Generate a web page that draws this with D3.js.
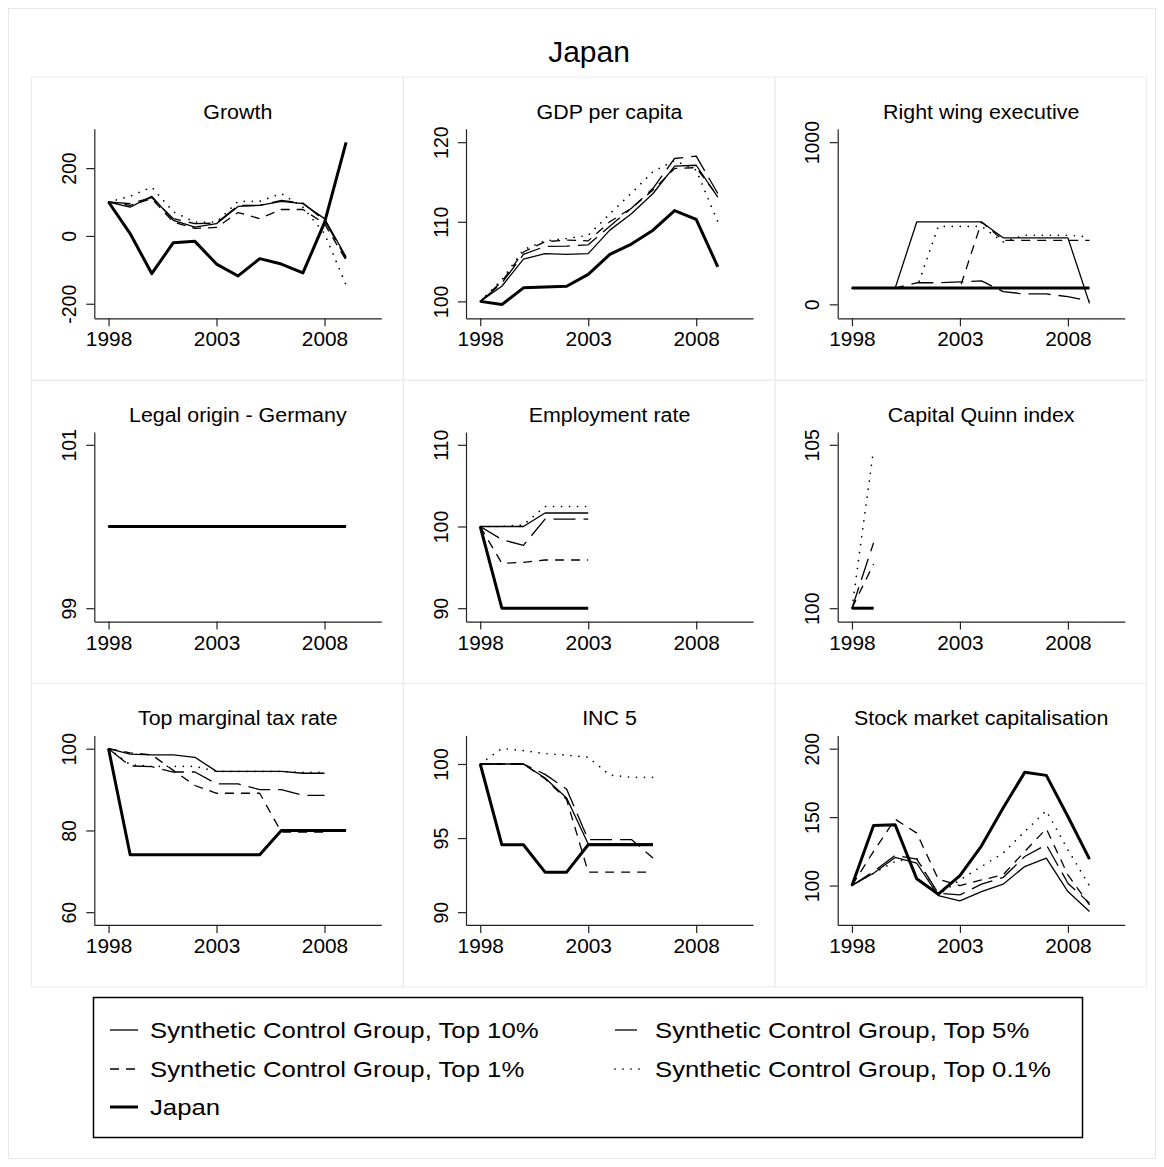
<!DOCTYPE html>
<html><head><meta charset="utf-8">
<script src="https://cdn.jsdelivr.net/npm/d3@7"></script>
<style>body{margin:0;background:#fff}svg{display:block}</style>
</head><body><svg id="chart" width="1164" height="1167"></svg>
<script>
// ---------- data ----------
const years = [1998,1999,2000,2001,2002,2003,2004,2005,2006,2007,2008,2009];
const seriesNames = ["Synthetic Control Group, Top 10%","Synthetic Control Group, Top 5%","Synthetic Control Group, Top 1%","Synthetic Control Group, Top 0.1%","Japan"];
const panelTitles = ["Growth","GDP per capita","Right wing executive","Legal origin - Germany","Employment rate","Capital Quinn index","Top marginal tax rate","INC 5","Stock market capitalisation"];
const xTickLabels = [1998, 2003, 2008];

// rows: Top 10%, Top 5%, Top 1%, Top 0.1%, Japan (values from 1998 onward)
const growthValues = [
  [100, 85, 117, 46, 26, 36, 87, 90, 102, 95, 51, -62],
  [100, 95, 113, 51, 36, 38, 90, 90, 105, 97, 46, -67],
  [100, 90, 110, 41, 22, 25, 69, 51, 78, 78, 36, -72],
  [100, 117, 144, 71, 41, 41, 102, 102, 125, 85, 7, -145],
  [100, 7, -111, -20, -16, -83, -118, -67, -83, -109, 39, 276]
];
const gdpValues = [
  [100, 101.9, 105.3, 106.0, 105.9, 106.0, 108.95, 111.0, 113.55, 117.0, 117.1, 113.1],
  [100, 102.3, 105.9, 106.9, 106.95, 107.1, 109.45, 111.7, 114.2, 117.95, 118.25, 113.55],
  [100, 102.5, 106.2, 107.5, 107.7, 107.6, 110.0, 111.7, 114.0, 116.7, 116.8, 113.2],
  [100, 102.7, 106.5, 107.6, 107.9, 108.3, 111.0, 113.6, 116.3, 117.7, 116.5, 110.0],
  [100, 99.6, 101.7, 101.8, 101.9, 103.4, 105.9, 107.2, 108.95, 111.4, 110.3, 104.35]
];
const rightWingValues = [
  [100, 100, 100, 508, 508, 508, 508, 410, 410, 410, 410, 6],
  [100, 100, 100, 133, 133, 138, 145, 78, 64, 64, 47, 22],
  [100, 100, 100, 100, 100, 100, 508, 395, 395, 395, 395, 395],
  [100, 100, 100, 100, 481, 481, 481, 385, 426, 426, 426, 416],
  [100, 100, 100, 100, 100, 100, 100, 100, 100, 100, 100, 100]
];
const legalValues = [
  [100, 100, 100, 100, 100, 100, 100, 100, 100, 100, 100, 100],
  [100, 100, 100, 100, 100, 100, 100, 100, 100, 100, 100, 100],
  [100, 100, 100, 100, 100, 100, 100, 100, 100, 100, 100, 100],
  [100, 100, 100, 100, 100, 100, 100, 100, 100, 100, 100, 100],
  [100, 100, 100, 100, 100, 100, 100, 100, 100, 100, 100, 100]
];
const employmentValues = [
  [100, 100, 100, 101.65, 101.65, 101.65],
  [100, 98.4, 97.7, 100.9, 100.9, 100.9],
  [100, 95.5, 95.6, 95.9, 95.9, 95.9],
  [100, 100, 100.2, 102.45, 102.45, 102.45],
  [100, 90, 90, 90, 90, 90]
];
const quinnValues = [
  [100, 100],
  [100, 102.0],
  [100, 101.35],
  [100, 104.85],
  [100, 100]
];
const taxValues = [
  [100, 98.7, 98.5, 98.5, 97.9, 94.45, 94.45, 94.45, 94.45, 94.0, 94.0],
  [100, 95.8, 95.6, 94.3, 94.3, 91.4, 91.4, 90.0, 90.0, 88.6, 88.6],
  [100, 99.0, 98.5, 94.7, 91.0, 89.1, 89.1, 89.1, 79.6, 79.6, 79.6],
  [100, 96.1, 95.7, 95.7, 95.7, 94.45, 94.45, 94.45, 94.45, 94.2, 94.2],
  [100, 74.04, 74.04, 74.04, 74.04, 74.04, 74.04, 74.04, 80, 80, 80, 80]
];
const inc5Values = [
  [100, 100, 100, 99.05, 97.7, 94.6, 94.6, 94.6, 94.6],
  [100, 100, 100, 99.3, 98.3, 94.9, 94.9, 94.9, 93.65],
  [100, 100, 100, 99.0, 97.6, 92.7, 92.7, 92.7, 92.7],
  [100, 101.05, 100.9, 100.7, 100.6, 100.45, 99.25, 99.1, 99.1],
  [100, 94.55, 94.55, 92.7, 92.7, 94.55, 94.55, 94.55, 94.55]
];
const stockValues = [
  [100, 109, 120.5, 116.3, 92.7, 88.8, 95.6, 101, 113.9, 120, 95.6, 81],
  [100, 110.2, 122, 119.3, 94.4, 93.2, 101, 105.9, 121.2, 129.8, 101.7, 87.1],
  [100, 124.9, 148.5, 138.3, 104.6, 100, 104.1, 107.8, 124.9, 141.5, 107.8, 85.9],
  [100, 109, 117.6, 120, 93.2, 104.1, 113.9, 123.7, 139.5, 154.6, 126.1, 99.8],
  [100, 143.9, 144.4, 104.9, 93.7, 107.3, 129, 156.6, 182.7, 180.5, 150.5, 119.3]
];
const growthTicks = [-200, 0, 200];
const gdpTicks = [100, 110, 120];
const rightWingTicks = [0, 1000];
const legalTicks = [99, 101];
const employmentTicks = [90, 100, 110];
const quinnTicks = [100, 105];
const taxTicks = [60, 80, 100];
const inc5Ticks = [90, 95, 100];
const stockTicks = [100, 150, 200];

// ---------- layout / styles ----------
const panels = [
  {values: growthValues, ticks: growthTicks, domain: [-242.9, 315.9]},
  {values: gdpValues, ticks: gdpTicks, domain: [97.875, 121.68]},
  {values: rightWingValues, ticks: rightWingTicks, domain: [-86.1, 1082.4]},
  {values: legalValues, ticks: legalTicks, domain: [98.836, 101.156]},
  {values: employmentValues, ticks: employmentTicks, domain: [88.36, 111.555]},
  {values: quinnValues, ticks: quinnTicks, domain: [99.59, 105.389]},
  {values: taxValues, ticks: taxTicks, domain: [56.89, 103.26]},
  {values: inc5Values, ticks: inc5Ticks, domain: [89.14, 101.93]},
  {values: stockValues, ticks: stockTicks, domain: [71.25, 209.7]}
];
const FONT = "'Liberation Sans', Arial, Helvetica, sans-serif";
const styles = [
  {w: 1.3, dash: null, cap: "butt"},
  {w: 1.3, dash: "22 8", cap: "butt"},
  {w: 1.3, dash: "9 7", cap: "butt"},
  {w: 1.7, dash: "0.01 8", cap: "round"},
  {w: 3, dash: null, cap: "butt"}
];
const colX = [31.5, 403.2, 774.9], rowY = [77, 380.3, 683.6];
const panelW = 371.7, panelH = 303.3;
const plotOffX = 62.8, plotOffY = 51.8, plotW = 287, plotH = 189.5;
const fmt = d => String(d);

const svg = d3.select("#chart");
svg.append("rect").attr("x", 0).attr("y", 0).attr("width", 1164).attr("height", 1167).attr("fill", "#fff");
svg.append("rect").attr("x", 8.5).attr("y", 8.5).attr("width", 1147).attr("height", 1150)
  .attr("fill", "none").attr("stroke", "#e8e8e8").attr("stroke-width", 1);

// main title
svg.append("text").attr("transform", "translate(589,61.5)")
  .attr("text-anchor", "middle").attr("font-family", FONT).attr("font-size", 30).attr("fill", "#000").text("Japan");

const x = d3.scaleLinear().domain([1997.34, 2010.63]).range([0, plotW]);

panels.forEach((p, i) => {
  const col = i % 3, row = Math.floor(i / 3);
  const g = svg.append("g");
  g.append("rect").attr("x", colX[col]).attr("y", rowY[row]).attr("width", panelW).attr("height", panelH)
    .attr("fill", "none").attr("stroke", "#ebebeb").attr("stroke-width", 1);
  const px = colX[col] + plotOffX, py = rowY[row] + plotOffY;
  const pg = g.append("g").attr("transform", `translate(${px},${py})`);
  const y = d3.scaleLinear().domain(p.domain).range([plotH, 0]);

  // title
  pg.append("text").attr("transform", `translate(${plotW / 2},-10) scale(1.07,1)`)
    .attr("text-anchor", "middle").attr("font-family", FONT).attr("font-size", 20).attr("fill", "#000")
    .text(panelTitles[i]);

  // y axis
  const ya = pg.append("g").call(d3.axisLeft(y).tickValues(p.ticks).tickSize(8).tickSizeOuter(0).tickFormat(fmt));
  ya.select(".domain").attr("stroke", "#222").attr("stroke-width", 1.2);
  ya.selectAll(".tick line").attr("stroke", "#222").attr("stroke-width", 1.2);
  ya.selectAll(".tick text").attr("x", null).attr("dy", null).attr("y", 0)
    .attr("transform", "translate(-18.3,0) scale(1.07,1) rotate(-90)")
    .attr("text-anchor", "middle").attr("font-family", FONT).attr("font-size", 19.5).attr("fill", "#000");

  // x axis
  const xa = pg.append("g").attr("transform", `translate(0,${plotH})`)
    .call(d3.axisBottom(x).tickValues(xTickLabels).tickSize(8).tickSizeOuter(0).tickFormat(fmt));
  xa.select(".domain").attr("stroke", "#222").attr("stroke-width", 1.2);
  xa.selectAll(".tick line").attr("stroke", "#222").attr("stroke-width", 1.2);
  xa.selectAll(".tick text").attr("dy", null).attr("y", 28)
    .attr("transform", "scale(1.07,1)")
    .attr("text-anchor", "middle").attr("font-family", FONT).attr("font-size", 19.5).attr("fill", "#000");

  const line = d3.line().x((d, k) => x(years[k])).y(d => y(d));
  p.values.forEach((vals, s) => {
    const st = styles[s];
    pg.append("path").datum(vals).attr("d", line)
      .attr("fill", "none").attr("stroke", "#000").attr("stroke-width", st.w)
      .attr("stroke-dasharray", st.dash).attr("stroke-linecap", st.cap).attr("stroke-linejoin", "round");
  });
});

// legend
const lg = svg.append("g");
lg.append("rect").attr("x", 93.5).attr("y", 997.5).attr("width", 989).attr("height", 140)
  .attr("fill", "#fff").attr("stroke", "#000").attr("stroke-width", 1.5);
const legPos = [[110, 1030], [615, 1030], [110, 1069], [615, 1069], [110, 1107]];
seriesNames.forEach((name, s) => {
  const [lx, ly] = legPos[s];
  const st = styles[s];
  lg.append("line").attr("x1", lx).attr("x2", lx + 28).attr("y1", ly).attr("y2", ly)
    .attr("stroke", "#000").attr("stroke-width", st.w).attr("stroke-dasharray", st.dash).attr("stroke-linecap", st.cap);
  lg.append("text").attr("transform", `translate(${lx + 40},${ly + 7.7}) scale(1.17,1)`)
    .attr("font-family", FONT).attr("font-size", 22).attr("fill", "#000").text(name);
});
</script>
</body></html>
